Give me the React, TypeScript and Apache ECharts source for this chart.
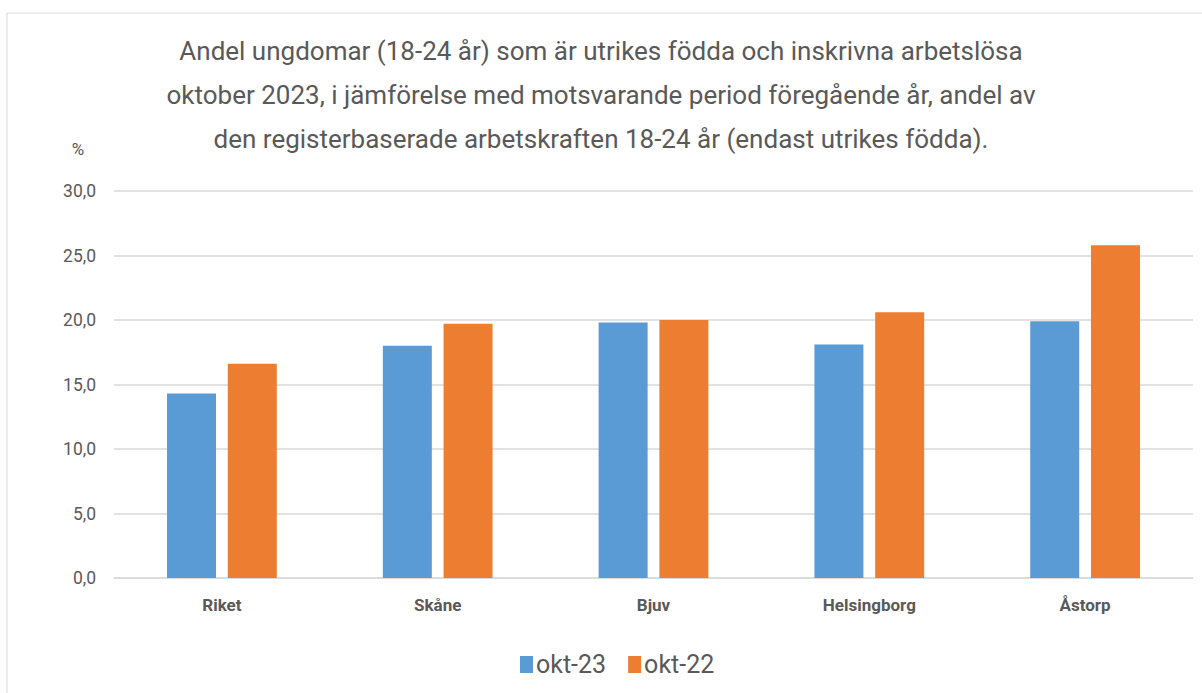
import React, { useEffect, useRef } from "react";
import * as echarts from "echarts";

const categories = ["Riket", "Skåne", "Bjuv", "Helsingborg", "Åstorp"];
const okt23 = [14.3, 18.0, 19.8, 18.1, 19.9];
const okt22 = [16.6, 19.7, 20.0, 20.6, 25.8];
const seriesNames = ["okt-23", "okt-22"];
const titleLines = [
  "Andel ungdomar (18-24 år) som är utrikes födda och inskrivna arbetslösa",
  "oktober 2023, i jämförelse med motsvarande period föregående år, andel av",
  "den registerbaserade arbetskraften 18-24 år (endast utrikes födda).",
];

const FONT = "Roboto, 'Noto Sans', sans-serif";
const GREY = "#595959";

export default function App() {
  const ref = useRef<HTMLDivElement>(null);
  useEffect(() => {
    if (!ref.current) return;
    const chart = echarts.init(ref.current, undefined, { renderer: "svg" });
    const titleY = [51, 95, 139];
    chart.setOption({
      animation: false,
      backgroundColor: "#ffffff",
      graphic: [
        {
          type: "rect",
          shape: { x: 7, y: 13, width: 1400, height: 900 },
          style: { fill: "none", stroke: "#d9d9d9", lineWidth: 1 },
          silent: true,
        },
        ...titleLines.map((t, i) => ({
          type: "text",
          x: 601,
          y: titleY[i],
          style: {
            text: t,
            fontFamily: FONT,
            fontSize: 26,
            fill: GREY,
            textAlign: "center",
            textVerticalAlign: "middle",
          },
        })),
        {
          type: "text",
          x: 78,
          y: 149,
          style: {
            text: "%",
            fontFamily: FONT,
            fontSize: 17,
            fill: GREY,
            textAlign: "center",
            textVerticalAlign: "middle",
          },
        },
      ],
      legend: {
        data: seriesNames,
        top: 647,
        left: 515,
        itemWidth: 13,
        itemHeight: 17,
        itemGap: 22,
        icon: "rect",
        textStyle: { fontFamily: FONT, fontSize: 25, color: GREY, padding: [0, 0, 0, -2] },
      },
      grid: { left: 114, right: 9, top: 191, height: 387 },
      xAxis: {
        type: "category",
        data: categories,
        axisLine: { lineStyle: { color: "#d9d9d9", width: 1.5 } },
        axisTick: { show: false },
        axisLabel: {
          fontFamily: FONT,
          fontSize: 17,
          fontWeight: "bold",
          color: GREY,
          margin: 18,
        },
      },
      yAxis: {
        type: "value",
        min: 0,
        max: 30,
        interval: 5,
        axisLine: { show: false },
        axisTick: { show: false },
        splitLine: { lineStyle: { color: "#d9d9d9", width: 1.5 } },
        axisLabel: {
          fontFamily: FONT,
          fontSize: 17.5,
          color: GREY,
          margin: 18,
          formatter: (v: number) => v.toFixed(1).replace(".", ","),
        },
      },
      series: [
        {
          name: seriesNames[0],
          type: "bar",
          data: okt23,
          barWidth: 49,
          barGap: "24%",
          itemStyle: { color: "#5B9BD5" },
        },
        {
          name: seriesNames[1],
          type: "bar",
          data: okt22,
          barWidth: 49,
          barGap: "24%",
          itemStyle: { color: "#ED7D31" },
        },
      ],
    });
    return () => chart.dispose();
  }, []);
  return (
    <div
      ref={ref}
      style={{ position: "absolute", left: 0, top: 0, width: 1202, height: 693 }}
    />
  );
}
